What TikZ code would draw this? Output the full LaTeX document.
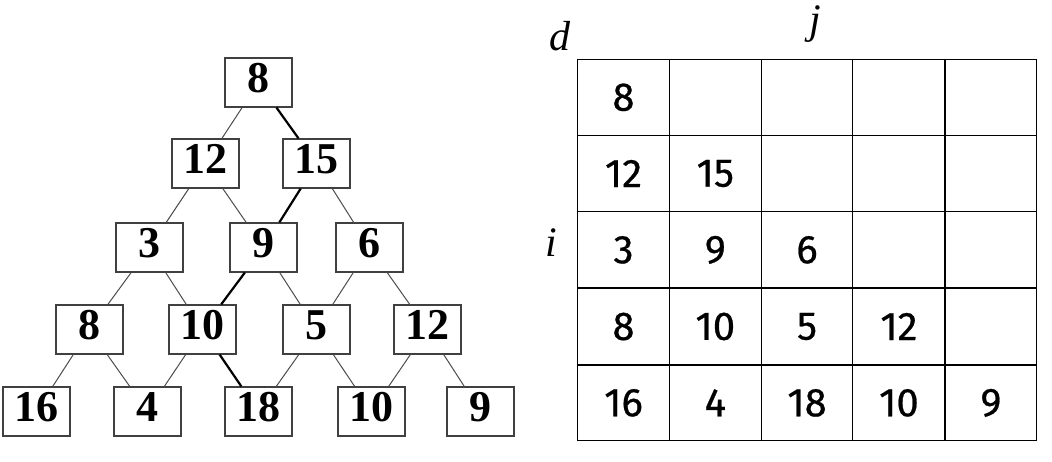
\documentclass[tikz,border=0pt]{standalone}
\usepackage{fontspec}
\setmainfont{Liberation Serif}
\newfontfamily\gridfont[FakeBold=0.6]{Fira Sans}
\begin{document}
\begin{tikzpicture}[x=0.5pt,y=-0.5pt,every node/.style={inner sep=0pt},
  treebox/.style={draw,black!75,line width=0.55pt,minimum width=33.5pt,minimum height=24.5pt,text=black,font=\fontsize{22}{22}\selectfont\bfseries,text height=14.5pt,text depth=5pt},
  edge/.style={black!70,line width=0.5pt},
  maxedge/.style={black,line width=1.1pt},
  cellnum/.style={font=\gridfont\fontsize{20}{20}\selectfont},
  axis/.style={font=\fontsize{21}{21}\selectfont\itshape,anchor=base}]
\useasboundingbox (0,0) rectangle (1052,461);
% number triangle
\node[treebox] (t11) at (258.5,82.5) {8};
\node[treebox] (t21) at (205.5,163.5) {12};
\node[treebox] (t22) at (316.5,163.5) {15};
\node[treebox] (t31) at (149.5,247.5) {3};
\node[treebox] (t32) at (263.5,247.5) {9};
\node[treebox] (t33) at (369.5,247.5) {6};
\node[treebox] (t41) at (89.5,329.5) {8};
\node[treebox] (t42) at (202.5,329.5) {10};
\node[treebox] (t43) at (316.5,329.5) {5};
\node[treebox] (t44) at (427.5,329.5) {12};
\node[treebox] (t51) at (36.5,411.5) {16};
\node[treebox] (t52) at (147.5,411.5) {4};
\node[treebox] (t53) at (258.5,411.5) {18};
\node[treebox] (t54) at (371.5,411.5) {10};
\node[treebox] (t55) at (480.5,411.5) {9};
\draw[edge] (t11)--(t21);
\draw[edge] (t21)--(t31);
\draw[edge] (t21)--(t32);
\draw[edge] (t22)--(t33);
\draw[edge] (t31)--(t41);
\draw[edge] (t31)--(t42);
\draw[edge] (t32)--(t43);
\draw[edge] (t33)--(t43);
\draw[edge] (t33)--(t44);
\draw[edge] (t41)--(t51);
\draw[edge] (t41)--(t52);
\draw[edge] (t42)--(t52);
\draw[edge] (t43)--(t53);
\draw[edge] (t43)--(t54);
\draw[edge] (t44)--(t54);
\draw[edge] (t44)--(t55);
% best path
\draw[maxedge] (t11)--(t22);
\draw[maxedge] (t22)--(t32);
\draw[maxedge] (t32)--(t42);
\draw[maxedge] (t42)--(t53);
% table d[i][j]
\draw[line width=0.75pt] (577.7,59.3) rectangle (1036.7,440.7);
\foreach \gx in {669.3,761.3,852.7,945} \draw[line width=0.75pt] (\gx,59.3) -- (\gx,440.7);
\foreach \gy in {135.3,211.7,288,365} \draw[line width=0.75pt] (577.7,\gy) -- (1036.7,\gy);
\node[axis] (dlab) at (560,50) {d};
\node[axis] (jlab) at (815,33) {j};
\node[axis] (ilab) at (551,256.5) {i};
\node[cellnum] (d11) at (623.5,97.3) {8};
\node[cellnum] (d21) at (623.5,173.5) {12};
\node[cellnum] (d22) at (715.3,173.5) {15};
\node[cellnum] (d31) at (623.5,249.9) {3};
\node[cellnum] (d32) at (715.3,249.9) {9};
\node[cellnum] (d33) at (807,249.9) {6};
\node[cellnum] (d41) at (623.5,326.5) {8};
\node[cellnum] (d42) at (715.3,326.5) {10};
\node[cellnum] (d43) at (807,326.5) {5};
\node[cellnum] (d44) at (898.9,326.5) {12};
\node[cellnum] (d51) at (623.5,402.9) {16};
\node[cellnum] (d52) at (715.3,402.9) {4};
\node[cellnum] (d53) at (807,402.9) {18};
\node[cellnum] (d54) at (898.9,402.9) {10};
\node[cellnum] (d55) at (990.9,402.9) {9};
\end{tikzpicture}
\end{document}
